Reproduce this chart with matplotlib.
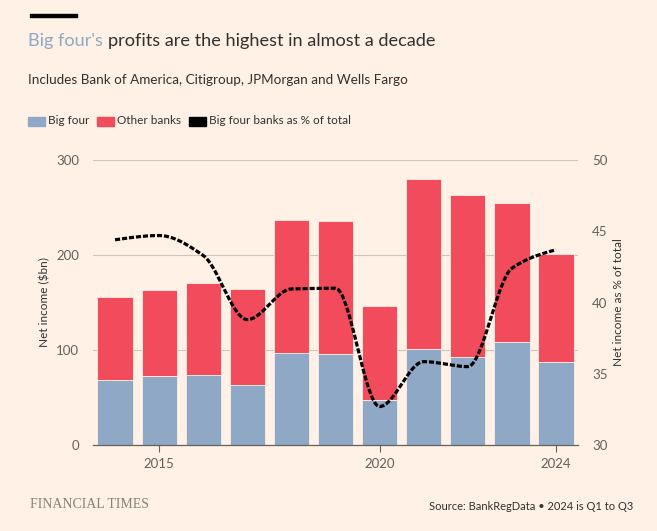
import numpy as np
import matplotlib
matplotlib.use("Agg")
import matplotlib.pyplot as plt
from matplotlib.patches import Rectangle

years = [2014, 2015, 2016, 2017, 2018, 2019, 2020, 2021, 2022, 2023, 2024]
big_four = [68.4, 72.3, 73.7, 63.2, 96.5, 96.1, 47.4, 100.7, 93.0, 108.1, 87.7]
other_banks = [87.0, 90.9, 96.5, 101.0, 140.3, 139.7, 99.3, 178.9, 169.8, 146.3, 113.0]
pct_big_four = [44.4, 44.7, 43.3, 38.8, 40.95, 41.0, 32.7, 35.85, 35.5, 42.4, 43.7]
x_ticks = [2015, 2020, 2024]
left_ticks = [0, 100, 200, 300]
right_ticks = [30, 35, 40, 45, 50]

BG = "#FFF1E5"
BLUE = "#8FA8C6"
RED = "#F24B5B"
TXT = "#33302E"
GREY = "#66605C"
GRID = "#CEC6B9"

plt.rcParams["font.family"] = ["Lato", "DejaVu Sans"]

def monotone(x, y, n=40):
    x = np.asarray(x, float); y = np.asarray(y, float)
    h = np.diff(x); d = np.diff(y) / h
    m = np.zeros_like(y)
    for i in range(1, len(y) - 1):
        if d[i - 1] * d[i] <= 0:
            m[i] = 0
        else:
            w1 = 2 * h[i] + h[i - 1]; w2 = h[i] + 2 * h[i - 1]
            m[i] = (w1 + w2) / (w1 / d[i - 1] + w2 / d[i])
    m[0] = (3 * d[0] - m[1]) / 2
    m[-1] = (3 * d[-1] - m[-2]) / 2
    xs, ys = [], []
    for i in range(len(h)):
        t = np.linspace(0, 1, n, endpoint=(i == len(h) - 1))
        h00 = 2 * t**3 - 3 * t**2 + 1; h10 = t**3 - 2 * t**2 + t
        h01 = -2 * t**3 + 3 * t**2; h11 = t**3 - t**2
        xs.append(x[i] + t * h[i])
        ys.append(h00 * y[i] + h10 * h[i] * m[i] + h01 * y[i + 1] + h11 * h[i] * m[i + 1])
    return np.concatenate(xs), np.concatenate(ys)

fig = plt.figure(figsize=(6.57, 5.31), dpi=100, facecolor=BG)
ax = fig.add_axes([93 / 657, 1 - 445 / 531, (578 - 93) / 657, (445 - 160) / 531])
ax.set_facecolor(BG)

ax.bar(years, big_four, width=0.8, color=BLUE, edgecolor=BG, linewidth=0.6, zorder=2)
ax.bar(years, other_banks, bottom=big_four, width=0.8, color=RED, edgecolor=BG, linewidth=0.6, zorder=2)

ax.set_xlim(2013.5, 2024.5)
ax.set_ylim(0, 300)
ax.set_yticks(left_ticks)
ax.set_xticks(x_ticks)
ax.grid(axis="y", color=GRID, linewidth=0.8, zorder=0)
for s in ["top", "right", "left"]:
    ax.spines[s].set_visible(False)
ax.spines["bottom"].set_color(GREY)
ax.spines["bottom"].set_linewidth(0.9)
ax.spines["bottom"].set_zorder(3)
ax.tick_params(axis="y", length=0, pad=10, labelsize=9.5, labelcolor=GREY)
ax.tick_params(axis="x", length=5, width=0.8, color=GREY, pad=4, labelsize=9.5, labelcolor=GREY)
ax.set_ylabel("Net income ($bn)", fontsize=8.5, color=TXT)
ax.yaxis.set_label_coords((50 - 93) / 485, 0.5)

ax2 = ax.twinx()
ax2.set_ylim(30, 50)
ax2.set_yticks(right_ticks)
for s in ["top", "right", "left", "bottom"]:
    ax2.spines[s].set_visible(False)
ax2.tick_params(axis="y", length=0, pad=10, labelsize=9.5, labelcolor=GREY)
ax2.set_ylabel("Net income as % of total", fontsize=8.5, color=TXT)
ax2.yaxis.set_label_coords((613 - 93) / 485, 0.5)
sx, sy = monotone(years, pct_big_four)
ax2.plot(sx, sy, color="black", linewidth=2.3, dashes=(1.6, 0.6), zorder=4)

# header
fig.add_artist(Rectangle((30 / 657, 1 - 17 / 531), 47 / 657, 3.5 / 531,
                         transform=fig.transFigure, color="black"))
t1 = fig.text(28 / 657, 1 - 41 / 531, "Big four's", fontsize=13.1, color=BLUE, va="center", ha="left")
fig.canvas.draw()
bb = t1.get_window_extent()
fig.text(bb.x1 / 657 + 5 / 657, 1 - 41 / 531, "profits are the highest in almost a decade",
         fontsize=13.1, color=TXT, va="center", ha="left")
fig.text(28 / 657, 1 - 80 / 531, "Includes Bank of America, Citigroup, JPMorgan and Wells Fargo",
         fontsize=9.7, color=TXT, va="center", ha="left")

# legend
leg_y = 1 - 121 / 531
items = [(28, BLUE, "Big four"), (97, RED, "Other banks"), (189, "black", "Big four banks as % of total")]
for x0, c, lab in items:
    fig.add_artist(Rectangle((x0 / 657, leg_y - 5 / 531), 17 / 657, 9 / 531,
                             transform=fig.transFigure, color=c))
    fig.text((x0 + 20) / 657, leg_y, lab, fontsize=8.5, color=TXT, va="center", ha="left")

# footer
fig.text(30 / 657, 1 - 505 / 531, "FINANCIAL TIMES", fontsize=10, color="#8A8078",
         family=["Liberation Serif", "DejaVu Serif"], va="center", ha="left")
fig.text(633 / 657, 1 - 507 / 531, "Source: BankRegData \u2022 2024 is Q1 to Q3", fontsize=8,
         color=TXT, va="center", ha="right")

fig.savefig("out.png", dpi=100, facecolor=BG)
